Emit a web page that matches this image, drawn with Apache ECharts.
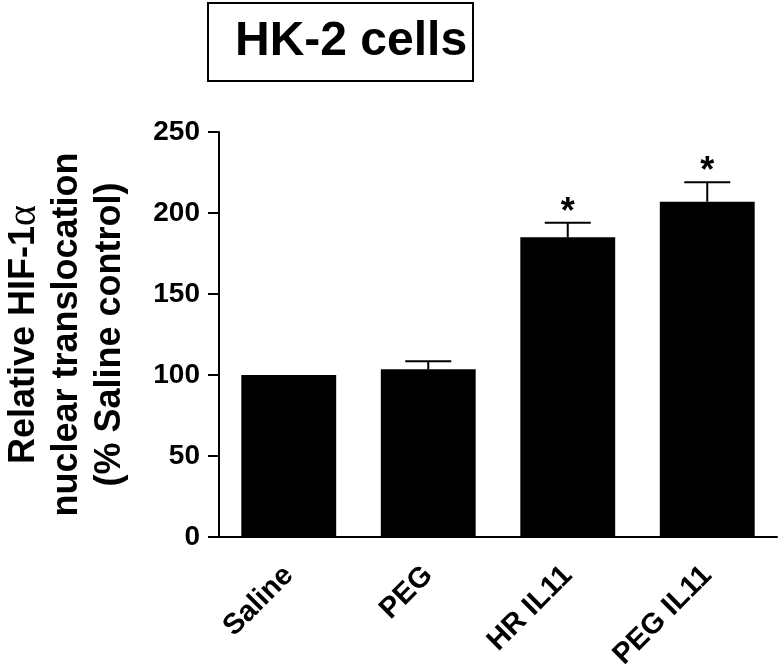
<!DOCTYPE html>
<html>
<head>
<meta charset="utf-8">
<script src="https://cdn.jsdelivr.net/npm/echarts@6/dist/echarts.min.js"></script>
<style>
html, body { margin: 0; padding: 0; background: #fff; }
#chart { width: 780px; height: 672px; }
</style>
</head>
<body>
<div id="chart"></div>
<script>
// data
var categories = ['Saline', 'PEG', 'HR IL11', 'PEG IL11'];
var means = [100, 103.5, 185, 207];
var sem = [0, 5, 9, 12];
var signif = ['', '', '*', '*'];
var yTicks = [0, 50, 100, 150, 200, 250];

var FONT = 'Liberation Sans, Arial, sans-serif';

var chart = echarts.init(document.getElementById('chart'));

var errData = [];
for (var i = 0; i < categories.length; i++) {
	errData.push([i, means[i], means[i] + sem[i], signif[i]]);
}

chart.setOption({
	animation: false,
	title: {
		text: 'HK-2 cells',
		left: 208,
		top: 3,
		padding: [15, 6, 15, 27],
		borderColor: '#000',
		borderWidth: 2,
		textStyle: {
			fontFamily: FONT,
			fontWeight: 'bold',
			fontSize: 48,
			lineHeight: 48,
			color: '#000'
		}
	},
	grid: {
		left: 219,
		right: 3,
		top: 132,
		bottom: 135,
		outerBoundsMode: 'none'
	},
	xAxis: {
		type: 'category',
		data: categories,
		axisLine: { lineStyle: { color: '#000', width: 2 } },
		axisTick: { alignWithLabel: true, length: 10, lineStyle: { color: '#000', width: 2 } },
		axisLabel: {
			rotate: 45,
			margin: 34,
			color: '#000',
			fontFamily: FONT,
			fontWeight: 'bold',
			fontSize: 29
		}
	},
	yAxis: {
		type: 'value',
		min: yTicks[0],
		max: yTicks[yTicks.length - 1],
		interval: 50,
		splitLine: { show: false },
		axisLine: { show: true, lineStyle: { color: '#000', width: 2 } },
		axisTick: { show: true, length: 11, lineStyle: { color: '#000', width: 2 } },
		axisLabel: {
			margin: 19,
			color: '#000',
			fontFamily: FONT,
			fontWeight: 'bold',
			fontSize: 28
		},
		name: '{a|Relative HIF-1}{g|α}\n{a|nuclear translocation}\n{a|(% Saline control)}',
		nameLocation: 'middle',
		nameRotate: 90,
		nameGap: 87,
		nameTextStyle: {
			rich: {
				a: {
					fontFamily: FONT,
					fontWeight: 'bold',
					fontSize: 36,
					lineHeight: 43,
					color: '#000'
				},
				g: {
					fontFamily: 'Liberation Serif, serif',
					fontSize: 40,
					lineHeight: 43,
					color: '#000'
				}
			}
		}
	},
	series: [
		{
			type: 'bar',
			data: means,
			barWidth: '68%',
			itemStyle: { color: '#000' }
		},
		{
			type: 'custom',
			data: errData,
			z: 3,
			renderItem: function (params, api) {
				var base = api.coord([api.value(0), api.value(1)]);
				var top = api.coord([api.value(0), api.value(2)]);
				var star = signif[params.dataIndex];
				var half = 23;
				var children = [];
				if (top[1] < base[1] - 0.5) {
					children.push({
						type: 'line',
						shape: { x1: base[0], y1: base[1], x2: top[0], y2: top[1] },
						style: { stroke: '#000', lineWidth: 2 }
					});
					children.push({
						type: 'line',
						shape: { x1: top[0] - half, y1: top[1], x2: top[0] + half, y2: top[1] },
						style: { stroke: '#000', lineWidth: 2 }
					});
				}
				if (star) {
					children.push({
						type: 'text',
						style: {
							text: star,
							x: top[0],
							y: top[1] - 10,
							align: 'center',
							verticalAlign: 'middle',
							fontFamily: FONT,
							fontWeight: 'bold',
							fontSize: 36,
							fill: '#000'
						}
					});
				}
				return { type: 'group', children: children };
			}
		}
	]
});
</script>
</body>
</html>
